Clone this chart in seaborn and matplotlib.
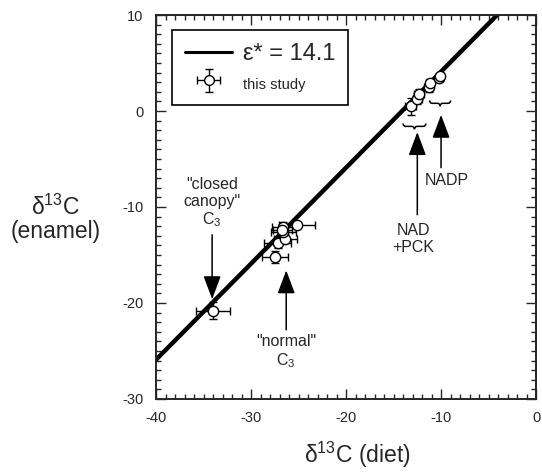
import matplotlib
matplotlib.use('Agg')
import matplotlib.pyplot as plt
import seaborn as sns
import numpy as np
import pandas as pd
from matplotlib.path import Path
from matplotlib.patches import PathPatch
from matplotlib.lines import Line2D
from matplotlib.ticker import MultipleLocator

# measured points (diet vs enamel) with 1-sigma errors
diet = [-34.0, -27.5, -27.2, -26.4, -26.6, -26.6, -26.7, -25.2,
        -13.2, -12.5, -12.3, -11.3, -11.2, -10.2, -10.1]
enamel = [-20.8, -15.2, -13.7, -13.3, -12.6, -12.1, -12.4, -11.9,
          0.5, 1.3, 1.8, 2.5, 2.9, 3.4, 3.6]
diet_err = [1.8, 1.4, 1.4, 1.2, 1.3, 1.2, 1.0, 1.9,
            0.6, 0.5, 0.5, 0.5, 0.4, 0.4, 0.3]
enamel_err = [0.9, 0.6, 0.6, 0.5, 0.4, 0.5, 0.4, 0.3,
              0.9, 0.6, 0.5, 0.5, 0.4, 0.3, 0.3]

# enrichment line
epsilon = 14.1
line_diet = np.array([-40.0, 0.0])

df = pd.DataFrame({'diet': diet, 'enamel': enamel})
line_df = pd.DataFrame({'diet': line_diet, 'enamel': line_diet + epsilon})

sns.set_style("ticks")
plt.rcParams['font.family'] = ['Liberation Sans', 'DejaVu Sans']
plt.rcParams['mathtext.fontset'] = 'custom'
plt.rcParams['mathtext.rm'] = 'Liberation Sans'
plt.rcParams['mathtext.it'] = 'Liberation Sans'
plt.rcParams['axes.unicode_minus'] = False

fig = plt.figure(figsize=(5.42, 4.72), dpi=100)
ax = fig.add_axes([0.288, 0.1547, 0.701, 0.8135])

sns.lineplot(data=line_df, x='diet', y='enamel', color='black', lw=3.2, ax=ax)
ax.errorbar(diet, enamel, xerr=diet_err, yerr=enamel_err, fmt='none',
            ecolor='black', elinewidth=1, capsize=3, capthick=1, zorder=3)
sns.scatterplot(data=df, x='diet', y='enamel', s=55, color='white',
                edgecolor='black', linewidth=1, zorder=4, ax=ax)

ax.set_xlim(-40, 0)
ax.set_ylim(-30, 10)
ax.xaxis.set_major_locator(MultipleLocator(10))
ax.yaxis.set_major_locator(MultipleLocator(10))
ax.xaxis.set_minor_locator(MultipleLocator(1))
ax.yaxis.set_minor_locator(MultipleLocator(1))
ax.tick_params(which='both', direction='in', top=True, right=True,
               width=1, labelsize=10.5, pad=9)
ax.tick_params(which='major', length=7)
ax.tick_params(which='minor', length=3.5)
for s in ax.spines.values():
    s.set_linewidth(1.4)

ax.set_xlabel('δ$^{13}$C (diet)', fontsize=16.5)
ax.xaxis.set_label_coords(0.53, -0.107)
ax.set_ylabel('δ$^{13}$C\n(enamel)', fontsize=16.5, rotation=0,
              ha='center', va='center', linespacing=1.0)
ax.yaxis.set_label_coords(-0.265, 0.47)

# legend
eb = ax.errorbar([np.nan], [np.nan], xerr=[1], yerr=[1], fmt='o', mfc='white',
                 mec='black', color='black', ms=7, elinewidth=1, capsize=3)
handles = [Line2D([0], [0], color='black', lw=2.2), eb]
leg = ax.legend(handles, ['ε* = 14.1', 'this study'], loc='upper left',
                bbox_to_anchor=(0.042, 0.961), borderaxespad=0, fontsize=17,
                fancybox=False, framealpha=1, edgecolor='black',
                handlelength=2.0, borderpad=0.55, labelspacing=0.3,
                handletextpad=0.45)
leg.get_frame().set_linewidth(1.2)
leg.get_texts()[1].set_fontsize(10.5)


def brace(cx, y0, w, h):
    x0, x1 = cx - w / 2, cx + w / 2
    q = w * 0.12
    ym = y0 - h / 2
    verts = [(x0, y0), (x0, ym), (x0 + q, ym), (cx - q, ym), (cx, ym),
             (cx, y0 - h), (cx, ym), (cx + q, ym), (x1 - q, ym), (x1, ym),
             (x1, y0)]
    codes = [Path.MOVETO, Path.CURVE3, Path.CURVE3, Path.LINETO, Path.CURVE3,
             Path.CURVE3, Path.CURVE3, Path.CURVE3, Path.LINETO, Path.CURVE3,
             Path.CURVE3]
    ax.add_patch(PathPatch(Path(verts, codes), fill=False, lw=1.1,
                           edgecolor='black'))


arrow = dict(arrowstyle='-|>,head_length=0.8,head_width=0.3', color='black',
             lw=1.1, mutation_scale=18, shrinkA=0, shrinkB=0)
fs = 11.5

ax.text(-34.1, -9.6, '"closed\ncanopy"\nC$_3$', ha='center', va='center',
        fontsize=fs, linespacing=1.15)
ax.annotate('', xy=(-34.1, -19.6), xytext=(-34.1, -12.9), arrowprops=arrow)

ax.text(-26.3, -23.2, '"normal"\nC$_3$', ha='center', va='top', fontsize=fs,
        linespacing=1.15)
ax.annotate('', xy=(-26.3, -16.6), xytext=(-26.3, -22.8), arrowprops=arrow)

brace(-12.8, -1.3, 2.4, 0.6)
ax.annotate('', xy=(-12.5, -2.2), xytext=(-12.5, -10.8), arrowprops=arrow)
ax.text(-12.9, -11.7, 'NAD\n+PCK', ha='center', va='top', fontsize=fs,
        linespacing=1.15)

brace(-10.1, 1.1, 2.2, 0.6)
ax.annotate('', xy=(-10.0, -0.4), xytext=(-10.0, -5.9), arrowprops=arrow)
ax.text(-9.4, -7.2, 'NADP', ha='center', va='center', fontsize=fs)

fig.savefig('out.png', dpi=100)
